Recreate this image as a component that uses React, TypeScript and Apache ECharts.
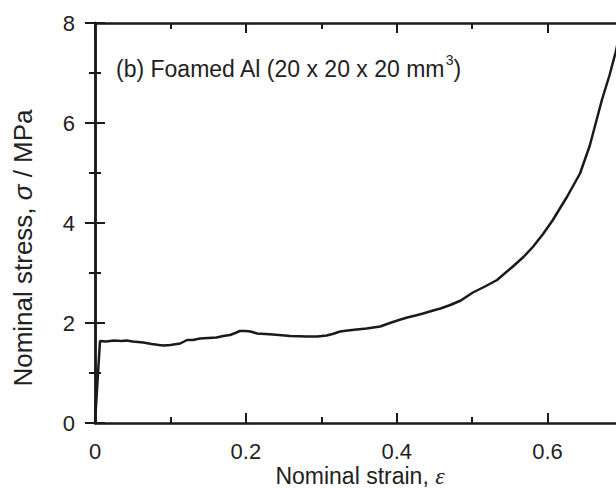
import React, { useEffect, useRef } from "react";
import * as echarts from "echarts";

const strainData = [0, 0.0066, 0.015, 0.025, 0.035, 0.042, 0.05, 0.064, 0.075, 0.085, 0.091, 0.1, 0.113, 0.122, 0.13, 0.139, 0.15, 0.161, 0.17, 0.179, 0.186, 0.192, 0.2, 0.206, 0.215, 0.236, 0.259, 0.281, 0.295, 0.307, 0.315, 0.325, 0.335, 0.347, 0.36, 0.378, 0.391, 0.403, 0.414, 0.425, 0.435, 0.446, 0.458, 0.471, 0.485, 0.501, 0.517, 0.533, 0.554, 0.568, 0.581, 0.594, 0.607, 0.626, 0.643, 0.656, 0.672, 0.682, 0.69, 0.699];
const stressData = [0, 1.64, 1.63, 1.65, 1.64, 1.65, 1.63, 1.61, 1.58, 1.56, 1.55, 1.56, 1.59, 1.66, 1.66, 1.69, 1.7, 1.71, 1.74, 1.76, 1.8, 1.84, 1.84, 1.83, 1.79, 1.77, 1.74, 1.73, 1.73, 1.75, 1.78, 1.83, 1.85, 1.87, 1.89, 1.93, 2.0, 2.06, 2.11, 2.15, 2.19, 2.24, 2.29, 2.36, 2.45, 2.61, 2.73, 2.86, 3.13, 3.32, 3.53, 3.78, 4.06, 4.53, 4.99, 5.55, 6.46, 6.95, 7.4, 8.0];

const xLabels = ["0", "0.2", "0.4", "0.6"];
const yLabels = ["0", "2", "4", "6", "8"];

const titleMain = "(b) Foamed Al (20 x 20 x 20 mm";
const titleSup = "3";
const xNameText = "Nominal strain, ";
const xNameSymbol = "ε";
const yNameText = "Nominal stress, ";
const yNameSymbol = "σ";
const yNameUnit = " / MPa";

const FONT = "'Liberation Sans', Arial, Helvetica, sans-serif";
const SERIF = "'Liberation Serif', 'DejaVu Serif', serif";
const INK = "#1a1a1a";
const TXT = "#222222";

export default function App() {
  const ref = useRef<HTMLDivElement>(null);
  useEffect(() => {
    if (!ref.current) return;
    const chart = echarts.init(ref.current, null, { renderer: "svg" });
    const points = strainData.map((x, i) => [x, stressData[i]]);
    const fmtX = (v: number) => {
      const s = v === 0 ? "0" : v.toFixed(1);
      return xLabels.includes(s) ? s : "";
    };
    const fmtY = (v: number) => {
      const s = String(Math.round(v));
      return yLabels.includes(s) ? s : "";
    };
    const lineSt = { color: INK, width: 2.5 };
    const tickSt = { color: INK, width: 2 };
    const baseX = {
      type: "value" as const,
      min: 0,
      max: 0.7,
      splitLine: { show: false },
    };
    chart.setOption({
      animation: false,
      backgroundColor: "#ffffff",
      grid: { left: 95, top: 23, width: 528, height: 400, containLabel: false },
      xAxis: [
        {
          ...baseX,
          position: "bottom",
          interval: 0.2,
          axisLine: { show: true, lineStyle: lineSt },
          axisTick: { show: true, inside: true, length: 10, lineStyle: tickSt },
          axisLabel: { show: true, formatter: fmtX, fontSize: 22, color: TXT, fontFamily: FONT, margin: 17, showMaxLabel: false },
        },
        {
          ...baseX,
          position: "bottom",
          interval: 0.1,
          axisLine: { show: false },
          axisTick: { show: true, inside: true, length: 6, lineStyle: tickSt },
          axisLabel: { show: false },
        },
        {
          ...baseX,
          position: "top",
          interval: 0.2,
          axisLine: { show: true, lineStyle: lineSt },
          axisTick: { show: true, inside: true, length: 10, lineStyle: tickSt },
          axisLabel: { show: false },
        },
        {
          ...baseX,
          position: "top",
          interval: 0.1,
          axisLine: { show: false },
          axisTick: { show: true, inside: true, length: 6, lineStyle: tickSt },
          axisLabel: { show: false },
        },
      ],
      yAxis: [
        {
          type: "value",
          position: "left",
          min: 0,
          max: 8,
          interval: 2,
          splitLine: { show: false },
          axisLine: { show: true, lineStyle: lineSt },
          axisTick: { show: true, inside: true, length: 10, lineStyle: tickSt },
          minorTick: { show: true, splitNumber: 2, length: 6, lineStyle: tickSt },
          axisLabel: { show: true, formatter: fmtY, fontSize: 22, color: TXT, fontFamily: FONT, margin: 20 },
        },
        {
          type: "value",
          position: "right",
          min: 0,
          max: 8,
          interval: 2,
          splitLine: { show: false },
          axisLine: { show: true, lineStyle: lineSt },
          axisTick: { show: true, inside: true, length: 10, lineStyle: tickSt },
          minorTick: { show: true, splitNumber: 2, length: 6, lineStyle: tickSt },
          axisLabel: { show: false },
        },
      ],
      graphic: [
        {
          type: "text",
          left: 116,
          top: 53,
          style: {
            text: "{a|" + titleMain + "}{s|" + titleSup + "}{a|)}",
            fill: TXT,
            rich: {
              a: { fontSize: 23, fontFamily: FONT, fill: TXT, lineHeight: 27, verticalAlign: "bottom" },
              s: { fontSize: 14, fontFamily: FONT, fill: TXT, lineHeight: 27, verticalAlign: "top" },
            },
          },
        },
        {
          type: "text",
          x: 360,
          y: 476,
          style: {
            text: "{a|" + xNameText + "}{i|" + xNameSymbol + "}",
            fill: TXT,
            align: "center",
            verticalAlign: "middle",
            rich: {
              a: { fontSize: 23, fontFamily: FONT, fill: TXT, lineHeight: 26 },
              i: { fontSize: 24, fontFamily: SERIF, fontStyle: "italic", fill: TXT, lineHeight: 26 },
            },
          },
        },
        {
          type: "text",
          x: 23,
          y: 248,
          rotation: Math.PI / 2,
          style: {
            text: "{a|" + yNameText + "}{i|" + yNameSymbol + "}{a|" + yNameUnit + "}",
            fill: TXT,
            align: "center",
            verticalAlign: "middle",
            rich: {
              a: { fontSize: 26, fontFamily: FONT, fill: TXT, lineHeight: 30 },
              i: { fontSize: 26, fontFamily: FONT, fontStyle: "italic", fill: TXT, lineHeight: 30 },
            },
          },
        },
      ],
      series: [
        {
          type: "line",
          xAxisIndex: 0,
          yAxisIndex: 0,
          data: points,
          showSymbol: false,
          symbol: "none",
          clip: true,
          lineStyle: { color: INK, width: 2.5 },
        },
      ],
    });
    return () => chart.dispose();
  }, []);
  return (
    <div style={{ position: "fixed", left: 0, top: 0, width: 616, height: 488, overflow: "hidden", background: "#fff" }}>
      <div ref={ref} style={{ width: 640, height: 488 }} />
    </div>
  );
}
